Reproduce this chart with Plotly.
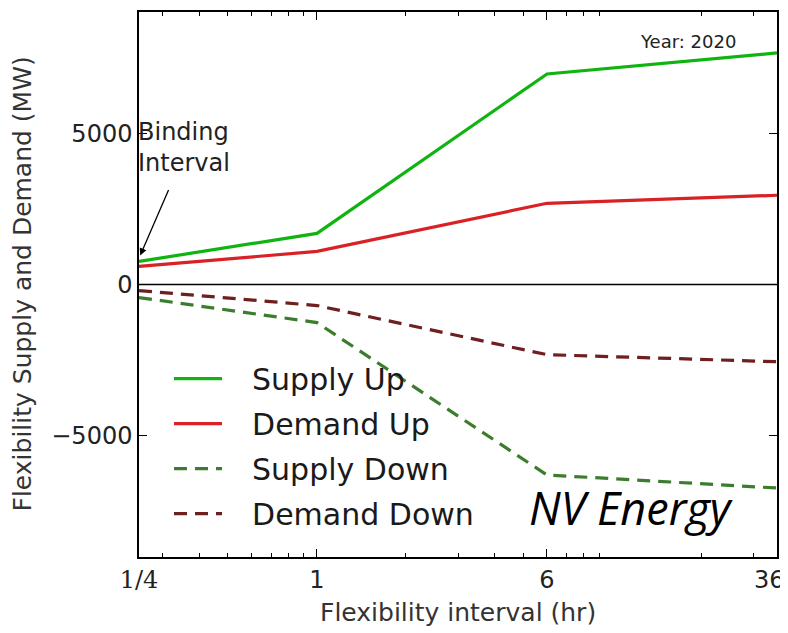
import plotly.graph_objects as go

intervals = [0.25, 1, 6, 36]
supply_up = [762, 1689, 6954, 7649]
demand_up = [596, 1093, 2682, 2947]
supply_down = [-430, -1258, -6291, -6722]
demand_down = [-199, -695, -2318, -2550]

x_tickvals = [0.25, 1, 6, 36]
x_ticktext = ['<span style="font-family:DejaVu Serif">1/4</span>', "1", "6",
              '36<span style="color:rgba(255,255,255,0)">0</span>']
x_minor = [0.3, 0.4, 0.5, 0.6, 0.7, 0.8, 0.9, 2, 3, 4, 5, 7, 8, 9, 20, 30]
y_tickvals = [-5000, 0, 5000]
y_ticktext = ["\u22125000", "0", "5000"]

fig = go.Figure()
series = [
    ("Supply Up", supply_up, "#10b410", "solid"),
    ("Demand Up", demand_up, "#d92126", "solid"),
    ("Supply Down", supply_down, "#3b7d2d", "13px,8px"),
    ("Demand Down", demand_down, "#6e1f1f", "13px,8px"),
]
for i, (name, vals, color, dash) in enumerate(series):
    fig.add_trace(go.Scatter(x=intervals, y=vals, mode="lines", name="\u00a0\u00a0\u2009" + name,
                             legendgroup=f"g{i}",
                             line=dict(color=color, width=3.2, dash=dash)))

fig.add_hline(y=0, line=dict(color="black", width=1.5))

font = "DejaVu Sans"
fig.update_layout(
    width=780, height=625,
    margin=dict(l=131, r=11, t=4, b=76),
    paper_bgcolor="white", plot_bgcolor="white",
    font=dict(family=font, color="#222222"),
    showlegend=True,
    legend=dict(x=0.047, y=0.375, xanchor="left", yanchor="top",
                bgcolor="rgba(0,0,0,0)", font=dict(size=30, family=font, color="#1a1a1a"),
                tracegroupgap=3, itemwidth=48),
    xaxis=dict(type="log", range=[-0.60206, 1.55631], tickvals=x_tickvals, ticktext=x_ticktext,
               ticks="inside", ticklen=8, tickwidth=1, tickcolor="black",
               ticklabeloverflow="allow",
               minor=dict(tickvals=x_minor, ticks="inside", ticklen=4, tickcolor="black"),
               showline=True, linecolor="black", linewidth=1.5, mirror="allticks",
               showgrid=False, zeroline=False, automargin=False,
               tickfont=dict(size=24, family=font, color="#222222")),
    yaxis=dict(range=[-9000, 9000], tickvals=y_tickvals, ticktext=y_ticktext,
               ticks="inside", ticklen=8, tickcolor="black",
               showline=True, linecolor="black", linewidth=1.5, mirror="allticks",
               showgrid=False, zeroline=False, automargin=False,
               tickfont=dict(size=24, family=font, color="#222222")),
)

fig.add_annotation(x=0.5, y=0, xref="paper", yref="paper", xanchor="center", yanchor="middle",
                   yshift=-55, text="Flexibility interval (hr)", showarrow=False,
                   font=dict(size=25, family=font, color="#333333"))
fig.add_annotation(x=0, y=0.5, xref="paper", yref="paper", xanchor="center", yanchor="middle",
                   xshift=-117, text="Flexibility Supply and Demand (MW)", showarrow=False,
                   textangle=-90, font=dict(size=25, family=font, color="#333333"))
fig.add_annotation(x=1, y=1, xref="paper", yref="paper", xanchor="right", yanchor="middle",
                   xshift=-39, yshift=-29, text="Year: 2020", showarrow=False,
                   font=dict(size=18, family=font, color="#222222"))
fig.add_annotation(x=0, y=0.752, xref="paper", yref="paper", xanchor="left", yanchor="middle",
                   text="Binding<br>Interval", showarrow=False, align="left", xshift=-3,
                   font=dict(size=24, family=font, color="#222222"))
fig.add_annotation(x=-0.598, y=960, xref="x", yref="y", text="", showarrow=True,
                   ax=29, ay=-67, arrowhead=2, arrowsize=1.1, arrowwidth=1.3, arrowcolor="black")
fig.add_annotation(x=1, y=0.09, xref="paper", yref="paper", xanchor="right", yanchor="middle",
                   xshift=-42, text="<i>NV Energy</i>", showarrow=False,
                   font=dict(size=45, family="Open Sans", color="black"))

fig.write_html("out.html")
